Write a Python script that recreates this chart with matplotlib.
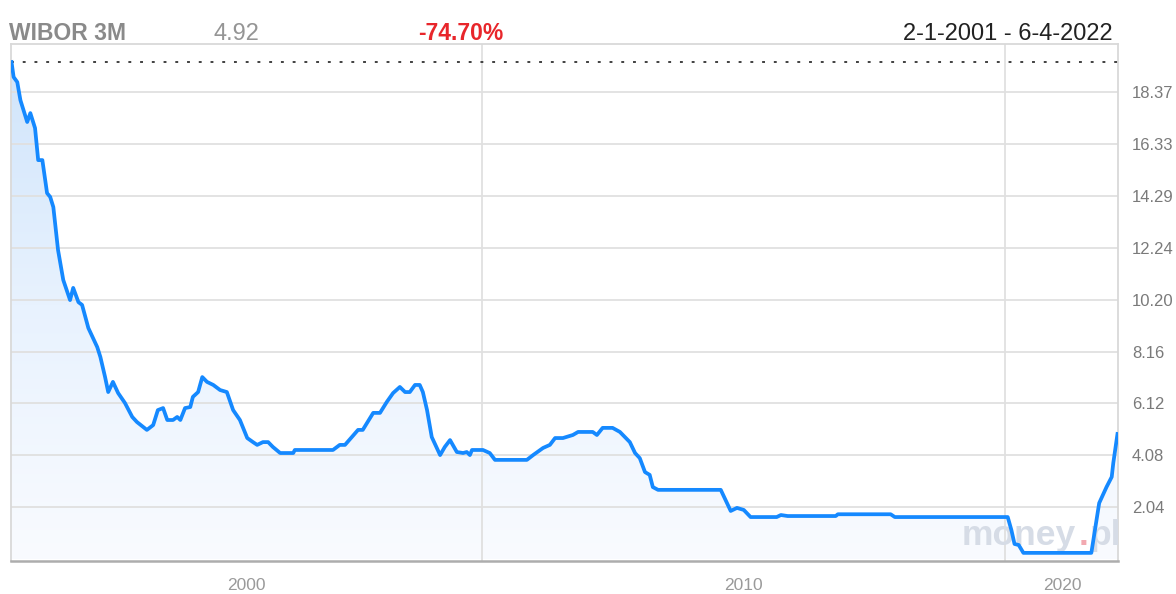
import numpy as np
import matplotlib.pyplot as plt
from matplotlib.colors import LinearSegmentedColormap

plt.rcParams['font.family'] = ['Liberation Sans', 'DejaVu Sans']

# dane (rok, WIBOR 3M w %)
years = [2001.00, 2001.04, 2001.11, 2001.17, 2001.30, 2001.36, 2001.45, 2001.51, 2001.59, 2001.68,
         2001.74, 2001.80, 2001.89, 2001.99, 2002.12, 2002.18, 2002.28, 2002.35, 2002.47, 2002.64,
         2002.70, 2002.79, 2002.85, 2002.94, 2003.04, 2003.17, 2003.31, 2003.40, 2003.59, 2003.71,
         2003.80, 2003.90, 2003.98, 2004.09, 2004.17, 2004.23, 2004.32, 2004.42, 2004.47, 2004.57,
         2004.65, 2004.74, 2004.86, 2004.99, 2005.12, 2005.24, 2005.37, 2005.51, 2005.62, 2005.70,
         2005.81, 2005.91, 2006.00, 2006.14, 2006.39, 2006.42, 2007.15, 2007.28, 2007.38, 2007.51,
         2007.63, 2007.72, 2007.86, 2007.92, 2008.05, 2008.18, 2008.30, 2008.43, 2008.53, 2008.62,
         2008.72, 2008.81, 2008.87, 2008.95, 2009.04, 2009.20, 2009.29, 2009.39, 2009.52, 2009.64,
         2009.71, 2009.77, 2009.81, 2010.02, 2010.15, 2010.25, 2010.86, 2010.98, 2011.17, 2011.30,
         2011.40, 2011.55, 2011.74, 2011.84, 2012.12, 2012.20, 2012.31, 2012.50, 2012.64, 2012.83,
         2012.93, 2013.02, 2013.12, 2013.21, 2013.27, 2013.37, 2014.57, 2014.76, 2014.88, 2015.01,
         2015.14, 2015.64, 2015.72, 2015.85, 2015.89, 2016.77, 2016.81, 2017.82, 2017.90, 2020.06,
         2020.13, 2020.19, 2020.27, 2020.36, 2021.66, 2021.72, 2021.81, 2021.95, 2022.05, 2022.08, 2022.16]
rates = [19.56, 18.97, 18.77, 18.06, 17.20, 17.55, 16.96, 15.70, 15.70, 14.40,
         14.25, 13.85, 12.16, 10.98, 10.19, 10.67, 10.11, 10.00, 9.09, 8.34,
         7.95, 7.16, 6.57, 6.97, 6.53, 6.14, 5.59, 5.39, 5.08, 5.27,
         5.86, 5.94, 5.47, 5.47, 5.59, 5.47, 5.94, 5.98, 6.38, 6.57,
         7.16, 6.97, 6.85, 6.65, 6.57, 5.86, 5.47, 4.76, 4.60, 4.49,
         4.60, 4.60, 4.41, 4.17, 4.17, 4.29, 4.29, 4.49, 4.49, 4.80,
         5.08, 5.08, 5.55, 5.75, 5.75, 6.18, 6.53, 6.77, 6.57, 6.57,
         6.85, 6.85, 6.57, 5.86, 4.80, 4.09, 4.41, 4.68, 4.21, 4.17,
         4.21, 4.09, 4.29, 4.29, 4.17, 3.90, 3.90, 4.09, 4.37, 4.49,
         4.76, 4.76, 4.88, 5.00, 5.00, 4.88, 5.16, 5.16, 5.00, 4.60,
         4.17, 3.97, 3.42, 3.31, 2.83, 2.72, 2.72, 1.89, 2.01, 1.93,
         1.65, 1.65, 1.73, 1.69, 1.69, 1.69, 1.76, 1.76, 1.65, 1.65,
         1.14, 0.59, 0.55, 0.24, 0.24, 1.02, 2.20, 2.83, 3.23, 3.78, 4.92]

start_rate = 19.56
last_rate = '4.92'
change_txt = '-74.70%'
date_range = '2-1-2001 - 6-4-2022'
ytick_vals = [2.04, 4.08, 6.12, 8.16, 10.20, 12.24, 14.29, 16.33, 18.37]
ytick_labels = ['2.04', '4.08', '6.12', '8.16', '10.20', '12.24', '14.29', '16.33', '18.37']
xtick_pos = [2005.5, 2015.0, 2021.1]
xtick_labels = ['2000', '2010', '2020']
xgrid_years = [2010.0, 2020.0]

W, H = 1176, 594
fig = plt.figure(figsize=(W / 100, H / 100), dpi=100)
ax = fig.add_axes([11 / W, 33 / H, 1107 / W, 517 / H])

x0, x1 = 2000.99, 2022.17
y0, y1 = -0.08, 20.27

# gradient pod linia
cmap = LinearSegmentedColormap.from_list('fill', ['#f9fbff', '#e8f2fe', '#cfe4fb'])
grad = np.linspace(0, 1, 256).reshape(-1, 1)
im = ax.imshow(grad, extent=[x0, x1, 0, 20.0], aspect='auto', cmap=cmap,
               origin='lower', zorder=1, interpolation='bicubic')
poly = ax.fill_between(years, rates, 0, color='none', lw=0)
im.set_clip_path(poly.get_paths()[0], transform=ax.transData)

for v in ytick_vals:
    ax.axhline(v, color='#e0e0e0', lw=1.3, zorder=2)
for g in xgrid_years:
    ax.axvline(g, color='#e0e0e0', lw=1.3, zorder=2)

# znak wodny
wy = (561 - 545) / 517
ax.text((962 - 11) / 1107, wy, 'money', transform=ax.transAxes,
        fontsize=25.5, fontweight='bold', color='#d6dce6', zorder=3, clip_on=True)
ax.text((1079 - 11) / 1107, wy, '.', transform=ax.transAxes,
        fontsize=25.5, fontweight='bold', color='#f2a9b1', zorder=3, clip_on=True)
ax.text((1090 - 11) / 1107, wy, 'pl', transform=ax.transAxes,
        fontsize=25.5, fontweight='bold', color='#d6dce6', zorder=3, clip_on=True)

ax.axhline(start_rate, color='#333333', lw=1.3, linestyle=(0, (1.6, 4.9)), zorder=4)
ax.plot(years, rates, color='#1589ff', lw=2.7, solid_joinstyle='round', zorder=5)

ax.set_xlim(x0, x1)
ax.set_ylim(y0, y1)

ax.yaxis.tick_right()
ax.set_yticks(ytick_vals, ytick_labels)
ax.set_xticks(xtick_pos, xtick_labels)
ax.tick_params(axis='y', length=0, pad=10, labelsize=12, labelcolor='#7a7a7a')
ax.tick_params(axis='x', length=0, pad=12, labelsize=12.5, labelcolor='#9a9a9a')

for s in ['left', 'top', 'right']:
    ax.spines[s].set_color('#d9d9d9')
    ax.spines[s].set_linewidth(1.3)
ax.spines['bottom'].set_color('#adadad')
ax.spines['bottom'].set_linewidth(1.8)

# naglowek
yb = 1 - 40 / H
fig.text(9 / W, yb, 'WIBOR 3M', fontsize=16.5, fontweight='bold', color='#8a8a8a', va='baseline')
fig.text(214 / W, yb, last_rate, fontsize=17, color='#959595', va='baseline')
fig.text(418 / W, yb, change_txt, fontsize=16.5, fontweight='bold', color='#e8262b', va='baseline')
fig.text(1113 / W, yb, date_range, fontsize=17, color='#222222', va='baseline', ha='right')

fig.savefig('out.png', dpi=100)
